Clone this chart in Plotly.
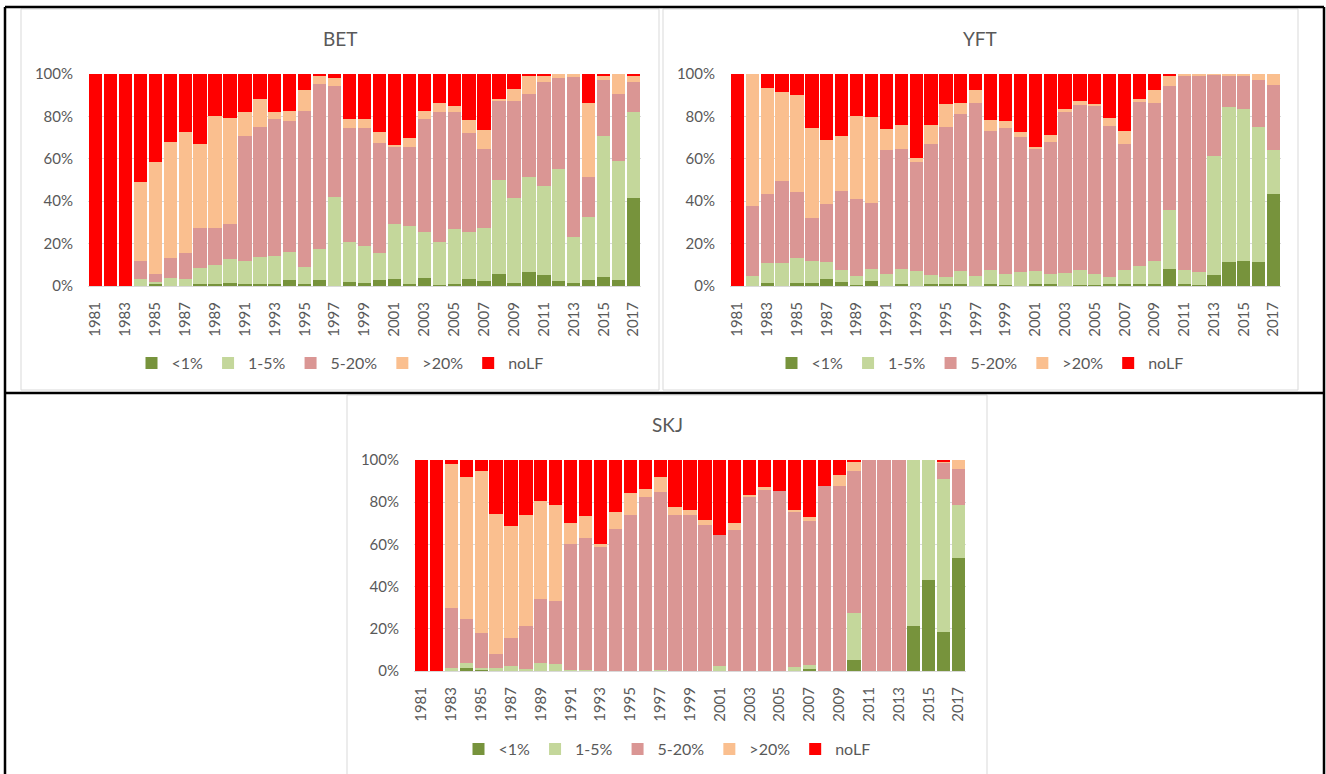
import plotly.graph_objects as go

years = [str(y) for y in range(1981, 2018)]
tick_years = [str(y) for y in range(1981, 2018, 2)]
series_names = ["<1%", "1-5%", "5-20%", ">20%", "noLF"]
series_colors = ["#77933C", "#C4D79B", "#DA9694", "#FABF8F", "#FF0000"]

# ---- BET (percent of each year) ----
bet_lt1 = [0, 0, 0, 0, 1.3, 0, 0, 1.0, 1.1, 1.6, 1.1, 1.1, 1.1, 2.8, 1.1, 2.8, 0, 1.9, 1.4,
           2.8, 3.3, 0.9, 3.9, 0.5, 1.1, 3.3, 2.4, 5.7, 1.4, 6.6, 5.3, 2.4, 1.4, 2.8, 4.4, 3.0, 41.7]
bet_1_5 = [0, 0, 0, 3.5, 0.7, 3.9, 3.1, 7.3, 8.8, 11.3, 10.8, 12.7, 13.2, 13.4, 8.0, 14.7, 42.1, 18.9, 17.5,
           12.8, 25.9, 27.4, 21.7, 20.4, 25.6, 22.3, 25.0, 44.3, 40.1, 44.8, 42.0, 52.8, 21.7, 29.7, 66.4, 56.0, 40.5]
bet_5_20 = [0, 0, 0, 8.3, 3.5, 9.1, 12.6, 18.9, 17.6, 16.5, 59.0, 61.4, 64.6, 61.8, 73.6, 77.9, 52.1, 53.6, 55.7,
            52.0, 36.2, 37.4, 53.3, 61.3, 55.5, 46.7, 37.4, 37.4, 45.9, 39.0, 49.1, 43.1, 75.6, 19.1, 26.2, 31.7, 14.2]
bet_gt20 = [0, 0, 0, 37.4, 52.8, 55.0, 56.8, 39.9, 52.7, 49.7, 11.0, 12.8, 3.0, 4.5, 9.6, 3.8, 4.1, 4.5, 4.2,
            5.2, 1.1, 4.3, 3.6, 4.1, 2.7, 5.8, 8.9, 1.0, 5.4, 8.7, 2.7, 1.7, 1.3, 34.7, 2.5, 9.3, 2.7]
bet_nolf = [100, 100, 100, 50.8, 41.7, 32.0, 27.5, 32.9, 19.8, 20.9, 18.1, 12.0, 18.1, 17.5, 7.7, 0.8, 1.7, 21.1, 21.2,
            27.2, 33.5, 30.0, 17.5, 13.7, 15.1, 21.9, 26.3, 11.6, 7.2, 0.9, 0.9, 0, 0, 13.7, 0.5, 0, 0.9]

# ---- YFT ----
yft_lt1 = [0, 0, 1.6, 0, 1.3, 1.3, 3.1, 1.7, 0.5, 2.2, 0, 0.9, 0, 0.9, 0.9, 0.9, 0, 0.9, 0.5,
           0, 0.9, 0.9, 0, 0.5, 0.5, 0.9, 0.9, 1.1, 1.1, 8.2, 0.9, 0.5, 5.3, 11.2, 11.9, 11.5, 43.6]
yft_1_5 = [0, 4.9, 9.2, 10.8, 12.1, 10.5, 8.2, 6.0, 4.4, 6.0, 5.7, 7.3, 7.1, 4.4, 3.3, 6.2, 4.9, 6.8, 5.0,
           6.6, 6.3, 4.6, 6.3, 7.2, 5.2, 3.3, 6.8, 8.3, 10.5, 27.8, 6.8, 6.1, 56.0, 73.4, 71.7, 63.3, 20.7]
yft_5_20 = [0, 33.0, 32.8, 38.6, 30.8, 20.4, 27.5, 37.0, 36.1, 30.8, 58.5, 56.6, 51.5, 61.8, 71.0, 74.2, 81.6, 65.6, 68.9,
            63.7, 57.7, 62.6, 75.9, 77.8, 79.5, 71.4, 59.4, 77.5, 74.9, 58.5, 91.5, 92.3, 38.5, 14.6, 15.8, 22.2, 30.7]
yft_gt20 = [0, 62.1, 50.0, 42.0, 45.7, 42.2, 29.9, 26.1, 39.0, 40.9, 9.9, 11.1, 1.8, 8.7, 10.5, 4.9, 6.0, 5.0, 3.4,
            2.2, 0.8, 3.1, 1.3, 1.9, 0.6, 3.8, 6.2, 1.3, 6.1, 4.9, 0.8, 1.1, 0.2, 0.8, 0.6, 3.0, 5.0]
yft_nolf = [100, 0, 6.4, 8.6, 10.1, 25.6, 31.3, 29.2, 20.0, 20.1, 25.9, 24.1, 39.6, 24.2, 14.3, 13.8, 7.5, 21.7, 22.2,
            27.5, 34.3, 28.8, 16.5, 12.6, 14.2, 20.6, 26.7, 11.8, 7.4, 0.6, 0, 0, 0, 0, 0, 0, 0]

# ---- SKJ ----
skj_lt1 = [0, 0, 0, 1.3, 0.8, 0, 0, 0, 0, 0, 0, 0, 0, 0, 0, 0, 0, 0, 0,
           0, 0, 0, 0, 0, 0, 0, 0.9, 0, 0, 5.1, 0, 0, 0, 21.5, 43.0, 18.3, 53.6]
skj_1_5 = [0, 0, 1.3, 2.6, 0.5, 1.3, 2.4, 0.9, 3.9, 3.3, 0.6, 0.5, 0, 0, 0, 0, 0.6, 0, 0,
           0, 2.4, 0, 0, 0, 0, 1.9, 2.1, 0, 0, 22.5, 0, 0, 0, 78.5, 57.0, 72.9, 25.2]
skj_5_20 = [0, 0, 28.7, 20.7, 16.9, 6.9, 13.1, 20.4, 30.4, 30.0, 59.6, 62.7, 58.9, 67.5, 73.8, 82.6, 84.4, 74.1, 73.8,
            69.4, 61.9, 67.0, 82.9, 85.9, 85.3, 73.8, 67.9, 87.7, 87.8, 67.0, 100, 100, 100, 0, 0, 7.4, 17.1]
skj_gt20 = [0, 0, 68.3, 67.5, 76.6, 66.4, 53.2, 52.5, 46.4, 45.2, 9.9, 10.3, 1.1, 8.0, 10.4, 3.5, 6.9, 3.5, 2.3,
            2.3, 0, 3.3, 0.5, 1.5, 0, 0.4, 2.1, 0, 4.9, 4.9, 0, 0, 0, 0, 0, 0.8, 4.1]
skj_nolf = [100, 100, 1.7, 7.9, 5.2, 25.4, 31.3, 26.2, 19.3, 21.5, 29.9, 26.5, 40.0, 24.5, 15.8, 13.9, 8.1, 22.4, 23.9,
            28.3, 35.7, 29.7, 16.6, 12.6, 14.7, 23.9, 27.0, 12.3, 7.3, 0.5, 0, 0, 0, 0, 0, 0.6, 0]

W, H = 1326, 774
TXT = "#595959"
GRID = "#D9D9D9"
FONT = "Lato, 'Open Sans', sans-serif"


def px(x):
    return x / W


def py(y):
    return 1 - y / H


panels = [
    dict(title="BET", data=[bet_lt1, bet_1_5, bet_5_20, bet_gt20, bet_nolf], ax="", legend="legend",
         xd=(88, 641), yd=(74, 286), tx=340, ty=38, lx=340, ly=363),
    dict(title="YFT", data=[yft_lt1, yft_1_5, yft_5_20, yft_gt20, yft_nolf], ax="2", legend="legend2",
         xd=(730, 1281), yd=(74, 286), tx=980, ty=38, lx=980, ly=363),
    dict(title="SKJ", data=[skj_lt1, skj_1_5, skj_5_20, skj_gt20, skj_nolf], ax="3", legend="legend3",
         xd=(414, 966), yd=(460, 671), tx=667, ty=424, lx=667, ly=749),
]

fig = go.Figure()
layout = dict(
    autosize=True, margin=dict(l=0, r=0, t=0, b=0, autoexpand=False),
    paper_bgcolor="white", plot_bgcolor="white",
    barmode="stack", bargap=0.11,
    font=dict(family=FONT, color=TXT, size=15),
    annotations=[], shapes=[],
)

for p in panels:
    for name, color, vals in zip(series_names, series_colors, p["data"]):
        fig.add_trace(go.Bar(
            x=years, y=vals, name=name, marker=dict(color=color, line=dict(width=0)),
            xaxis="x" + p["ax"], yaxis="y" + p["ax"], legend=p["legend"],
        ))
    layout["xaxis" + p["ax"]] = dict(
        domain=[px(p["xd"][0]), px(p["xd"][1])], anchor="y" + p["ax"],
        type="category", categoryorder="array", categoryarray=years,
        range=[-0.5, len(years) - 0.5],
        tickmode="array", tickvals=tick_years, ticktext=tick_years,
        tickangle=-90, ticks="", ticklabelstandoff=9,
        tickfont=dict(size=15, color=TXT, family=FONT),
        showline=True, linecolor=GRID, linewidth=1, showgrid=False, zeroline=False, fixedrange=True,
    )
    layout["yaxis" + p["ax"]] = dict(
        domain=[py(p["yd"][1]), py(p["yd"][0])], anchor="x" + p["ax"],
        range=[0, 100], tickmode="array", tickvals=[0, 20, 40, 60, 80, 100],
        ticktext=["0%", "20%", "40%", "60%", "80%", "100%"], ticks="", ticklabelstandoff=14,
        tickfont=dict(size=15, color=TXT, family=FONT),
        showgrid=True, gridcolor=GRID, gridwidth=1, zeroline=False, showline=False, fixedrange=True,
    )
    layout[p["legend"]] = dict(
        orientation="h", x=px(p["lx"]), xanchor="center", y=py(p["ly"]), yanchor="middle",
        font=dict(size=16, color=TXT, family=FONT), bgcolor="rgba(0,0,0,0)",
        itemwidth=30, traceorder="normal", itemclick=False, itemdoubleclick=False,
    )
    layout["annotations"].append(dict(
        text=p["title"], x=px(p["tx"]), y=py(p["ty"]), xref="paper", yref="paper",
        xanchor="center", yanchor="middle", showarrow=False,
        font=dict(size=19, color=TXT, family=FONT),
    ))

# light grey chart-area frames
for (x0, y0, x1, y1) in [(21, 9, 659, 390), (663, 9, 1298, 390), (347, 395, 987, 790)]:
    layout["shapes"].append(dict(type="rect", xref="paper", yref="paper",
                                 x0=px(x0), x1=px(x1), y0=py(y1), y1=py(y0),
                                 line=dict(color="#D9D9D9", width=1), fillcolor="rgba(0,0,0,0)", layer="below"))

# black table borders
for (x0, y0, x1, y1) in [(5, 7, 1324, 7), (5, 393, 1324, 393), (5, 7, 5, 780), (1324, 7, 1324, 780)]:
    layout["shapes"].append(dict(type="line", xref="paper", yref="paper",
                                 x0=px(x0), x1=px(x1), y0=py(y0), y1=py(y1),
                                 line=dict(color="black", width=2.5), layer="above"))

fig.update_layout(**layout)
fig.write_html(
    "out.html",
    config={"displayModeBar": False, "responsive": True},
    default_width="100vw", default_height="100vh",
    post_script=(
        "document.documentElement.style.margin='0';"
        "document.documentElement.style.overflow='hidden';"
        "document.body.style.margin='0';document.body.style.padding='0';"
        "document.body.style.overflow='hidden';"
        "var gd=document.getElementById('{plot_id}');"
        "gd.style.position='fixed';gd.style.left='0px';gd.style.top='0px';"
        "gd.style.width='100vw';gd.style.height='100vh';"
        "Plotly.Plots.resize(gd);"
    ),
)
